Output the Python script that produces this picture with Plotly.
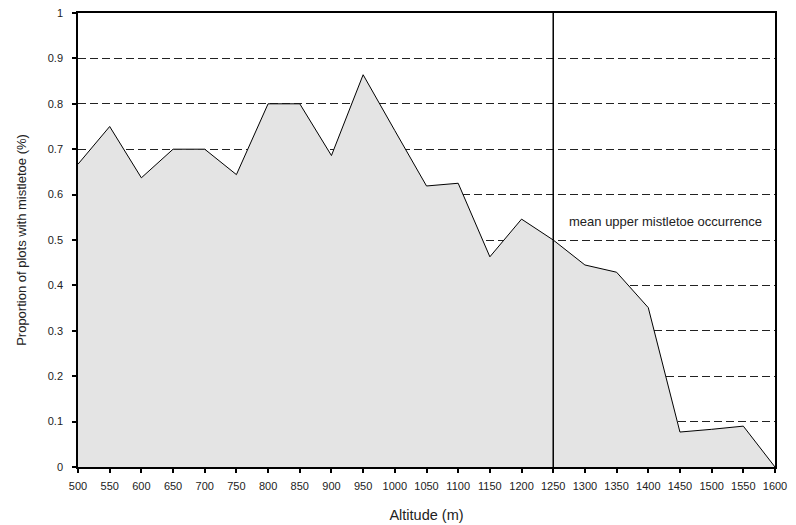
import plotly.graph_objects as go

altitude = [500, 550, 600, 650, 700, 750, 800, 850, 900, 950, 1000, 1050, 1100,
            1150, 1200, 1250, 1300, 1350, 1400, 1450, 1500, 1550, 1600]
proportion = [0.667, 0.75, 0.637, 0.70, 0.70, 0.644, 0.80, 0.80, 0.686, 0.864, 0.741, 0.619, 0.625,
              0.463, 0.546, 0.50, 0.445, 0.429, 0.351, 0.077, 0.083, 0.090, 0.0]
x_ticks = list(range(500, 1601, 50))
y_ticks = [0, 0.1, 0.2, 0.3, 0.4, 0.5, 0.6, 0.7, 0.8, 0.9, 1]
mean_upper = 1250
annotation_text = "mean upper mistletoe occurrence"

font = "Liberation Sans, Arial, sans-serif"

fig = go.Figure()
fig.add_trace(go.Scatter(
    x=altitude, y=proportion, mode="lines",
    line=dict(color="black", width=1),
    fill="tozeroy", fillcolor="#e4e4e4",
    showlegend=False, hoverinfo="x+y",
))

fig.add_shape(type="line", x0=mean_upper, x1=mean_upper, y0=0, y1=1.005,
              xref="x", yref="y", line=dict(color="black", width=1.5), layer="above")

fig.add_annotation(x=mean_upper + 21, y=0.54, xref="x", yref="y", text=annotation_text,
                   showarrow=False, xanchor="left", yanchor="middle",
                   font=dict(family=font, size=13, color="#222"))

fig.update_layout(
    width=796, height=525,
    margin=dict(l=78, r=21, t=13, b=58),
    paper_bgcolor="white", plot_bgcolor="white",
    font=dict(family=font, size=11, color="#222"),
    xaxis=dict(
        range=[500, 1600], tickvals=x_ticks, ticktext=[str(v) for v in x_ticks],
        showgrid=False, zeroline=False, automargin=False,
        showline=True, linecolor="black", linewidth=1.5, mirror=True,
        ticks="outside", ticklen=4, tickwidth=1.5, tickcolor="black",
        tickfont=dict(size=11, color="#222"), ticklabelstandoff=4,
        title=dict(text="Altitude (m)", font=dict(size=14.5, color="#222"), standoff=19),
    ),
    yaxis=dict(
        range=[0, 1], tickvals=y_ticks,
        showgrid=True, gridcolor="#222", gridwidth=1, griddash="8px,4px",
        zeroline=False, automargin=False,
        showline=True, linecolor="black", linewidth=1.5, mirror=True,
        ticks="outside", ticklen=4, tickwidth=1.5, tickcolor="black",
        tickfont=dict(size=11, color="#222"), ticklabelstandoff=7,
        title=dict(text="Proportion of plots with mistletoe (%)", font=dict(size=13, color="#222"), standoff=18),
    ),
)

fig.write_html("out.html", config={"displayModeBar": False},
               post_script="document.body.style.margin='0';")
